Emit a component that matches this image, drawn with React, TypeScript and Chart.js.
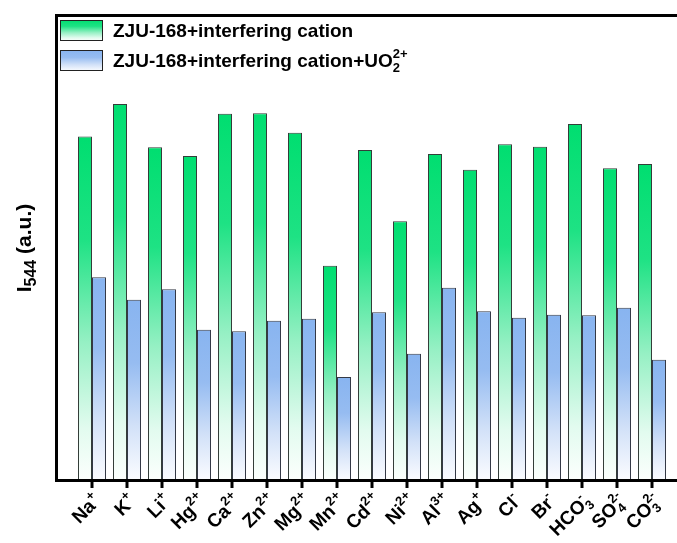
import React, { useEffect, useRef } from 'react';
import { Chart, registerables } from 'chart.js';

Chart.register(...registerables);

// ---- data ----
const categories = ['Na+', 'K+', 'Li+', 'Hg2+', 'Ca2+', 'Zn2+', 'Mg2+', 'Mn2+', 'Cd2+', 'Ni2+', 'Al3+', 'Ag+', 'Cl-', 'Br-', 'HCO3-', 'SO42-', 'CO32-'];
const labelBase = ['Na', 'K', 'Li', 'Hg', 'Ca', 'Zn', 'Mg', 'Mn', 'Cd', 'Ni', 'Al', 'Ag', 'Cl', 'Br', 'HCO', 'SO', 'CO'];
const labelSub = ['', '', '', '', '', '', '', '', '', '', '', '', '', '', '3', '4', '3'];
const labelSup = ['+', '+', '+', '2+', '2+', '2+', '2+', '2+', '2+', '2+', '3+', '+', '-', '-', '-', '2-', '2-'];
const seriesNames = ['ZJU-168+interfering cation', 'ZJU-168+interfering cation+UO2 2+'];
const withoutUO2 = [3435, 3760, 3327, 3240, 3663, 3668, 3473, 2143, 3300, 2587, 3260, 3103, 3357, 3333, 3560, 3117, 3160];
const withUO2 = [2027, 1803, 1907, 1503, 1487, 1593, 1613, 1030, 1677, 1263, 1923, 1687, 1623, 1653, 1647, 1723, 1203];
const yMin = 0;
const yMax = 4650;

// ---- style ----
const FONT = '"Liberation Sans", Arial, Helvetica, sans-serif';
const GREEN_STOPS: [number, string][] = [
  [0, 'rgb(0,222,112)'],
  [0.3, 'rgb(30,226,132)'],
  [0.6, 'rgb(150,240,196)'],
  [0.85, 'rgb(226,251,239)'],
  [1, 'rgb(252,255,253)'],
];
const BLUE_STOPS: [number, string][] = [
  [0, 'rgb(136,180,240)'],
  [0.35, 'rgb(150,188,241)'],
  [0.7, 'rgb(210,225,248)'],
  [1, 'rgb(251,252,255)'],
];

function makeGrad(ctx: CanvasRenderingContext2D, top: number, bottom: number, stops: [number, string][]) {
  const g = ctx.createLinearGradient(0, top, 0, bottom);
  stops.forEach(([o, c]) => g.addColorStop(o, c));
  return g;
}

function barGrad(c: any, stops: [number, string][]) {
  const chart = c.chart;
  const area = chart.chartArea;
  if (!area || c.type !== 'data' || !chart.scales.y) return stops[0][1];
  const v = c.raw as number;
  const top = chart.scales.y.getPixelForValue(v);
  return makeGrad(chart.ctx, top, area.bottom, stops);
}

function drawRich(
  ctx: CanvasRenderingContext2D,
  x: number,
  y: number,
  base: string,
  sub: string,
  sup: string,
  mainPx: number,
  smallPx: number,
) {
  ctx.font = `bold ${mainPx}px ${FONT}`;
  ctx.fillText(base, x, y);
  const wb = ctx.measureText(base).width;
  ctx.font = `bold ${smallPx}px ${FONT}`;
  let ws = 0;
  let wp = 0;
  if (sub) {
    ctx.fillText(sub, x + wb, y + mainPx * 0.25);
    ws = ctx.measureText(sub).width;
  }
  if (sup) {
    ctx.fillText(sup, x + wb, y - mainPx * 0.45);
    wp = ctx.measureText(sup).width;
  }
  return wb + Math.max(ws, wp);
}

function measureRich(ctx: CanvasRenderingContext2D, base: string, sub: string, sup: string, mainPx: number, smallPx: number) {
  ctx.font = `bold ${mainPx}px ${FONT}`;
  const wb = ctx.measureText(base).width;
  ctx.font = `bold ${smallPx}px ${FONT}`;
  const ws = sub ? ctx.measureText(sub).width : 0;
  const wp = sup ? ctx.measureText(sup).width : 0;
  return wb + Math.max(ws, wp);
}

const decor = {
  id: 'decor',
  afterDraw(chart: any) {
    const ctx: CanvasRenderingContext2D = chart.ctx;
    const area = chart.chartArea;
    const xs = chart.scales.x;
    const W = chart.width;
    const axisLeft = area.left - 18;
    ctx.save();
    ctx.fillStyle = '#000';
    ctx.strokeStyle = '#000';
    // frame lines
    ctx.lineWidth = 3;
    ctx.beginPath();
    ctx.moveTo(axisLeft - 1.5, area.top + 0.5);
    ctx.lineTo(W, area.top + 0.5);
    ctx.moveTo(axisLeft, area.top);
    ctx.lineTo(axisLeft, area.bottom + 2);
    ctx.moveTo(axisLeft - 1.5, area.bottom + 0.5);
    ctx.lineTo(W, area.bottom + 0.5);
    ctx.stroke();
    // ticks
    categories.forEach((_, i) => {
      const x = xs.getPixelForValue(i);
      ctx.beginPath();
      ctx.moveTo(x, area.bottom);
      ctx.lineTo(x, area.bottom + 8);
      ctx.stroke();
    });
    // x labels
    ctx.textBaseline = 'alphabetic';
    ctx.textAlign = 'left';
    categories.forEach((_, i) => {
      const x = xs.getPixelForValue(i);
      ctx.save();
      ctx.translate(x + 5, area.bottom + 17);
      ctx.rotate(-Math.PI / 4);
      const w = measureRich(ctx, labelBase[i], labelSub[i], labelSup[i], 19, 13);
      drawRich(ctx, -w, 7, labelBase[i], labelSub[i], labelSup[i], 19, 13);
      ctx.restore();
    });
    // legend
    const swX = area.left - 14.5;
    const rows = [area.top + 5, area.top + 35];
    const stops = [GREEN_STOPS, BLUE_STOPS];
    rows.forEach((ry, k) => {
      ctx.fillStyle = makeGrad(ctx, ry, ry + 21, stops[k]);
      ctx.fillRect(swX, ry, 43, 21);
      ctx.lineWidth = 1;
      ctx.strokeStyle = '#222';
      ctx.strokeRect(swX + 0.5, ry + 0.5, 42, 20);
      ctx.fillStyle = '#000';
    });
    ctx.font = `bold 19px ${FONT}`;
    ctx.fillText(seriesNames[0], swX + 53, rows[0] + 17);
    drawRich(ctx, swX + 53, rows[1] + 17, 'ZJU-168+interfering cation+UO', '2', '2+', 19, 13);
    // y title
    ctx.save();
    ctx.translate(31, 248);
    ctx.rotate(-Math.PI / 2);
    ctx.font = `bold 21px ${FONT}`;
    const wI = ctx.measureText('I').width;
    const wRest = ctx.measureText(' (a.u.)').width;
    ctx.font = `bold 16px ${FONT}`;
    const wSub = ctx.measureText('544').width;
    const total = wI + wSub + wRest;
    let cx = -total / 2;
    ctx.font = `bold 21px ${FONT}`;
    ctx.fillText('I', cx, 0);
    cx += wI;
    ctx.font = `bold 16px ${FONT}`;
    ctx.fillText('544', cx, 5);
    cx += wSub;
    ctx.font = `bold 21px ${FONT}`;
    ctx.fillText(' (a.u.)', cx, 0);
    ctx.restore();
    ctx.restore();
  },
};

export default function App() {
  const ref = useRef<HTMLCanvasElement>(null);
  useEffect(() => {
    const canvas = ref.current!;
    const chart = new Chart(canvas, {
      type: 'bar',
      data: {
        labels: categories,
        datasets: [
          {
            label: seriesNames[0],
            data: withoutUO2,
            backgroundColor: (c: any) => barGrad(c, GREEN_STOPS),
            borderColor: 'rgba(30,40,35,0.9)',
            borderWidth: 1,
            barPercentage: 1,
            categoryPercentage: 0.8,
          },
          {
            label: seriesNames[1],
            data: withUO2,
            backgroundColor: (c: any) => barGrad(c, BLUE_STOPS),
            borderColor: 'rgba(30,35,50,0.9)',
            borderWidth: 1,
            barPercentage: 1,
            categoryPercentage: 0.8,
          },
        ],
      },
      options: {
        responsive: false,
        animation: false,
        devicePixelRatio: 1,
        layout: { padding: { left: 74.5, right: 7.5, top: 15, bottom: 63 } },
        plugins: { legend: { display: false }, tooltip: { enabled: false } },
        scales: {
          x: { display: false },
          y: { display: false, min: yMin, max: yMax },
        },
      },
      plugins: [decor],
    } as any);
    return () => chart.destroy();
  }, []);
  return (
    <div style={{ position: 'absolute', left: 0, top: 0, width: 677, height: 543, background: '#fff' }}>
      <canvas ref={ref} width={677} height={543} style={{ display: 'block', width: 677, height: 543 }} />
    </div>
  );
}
